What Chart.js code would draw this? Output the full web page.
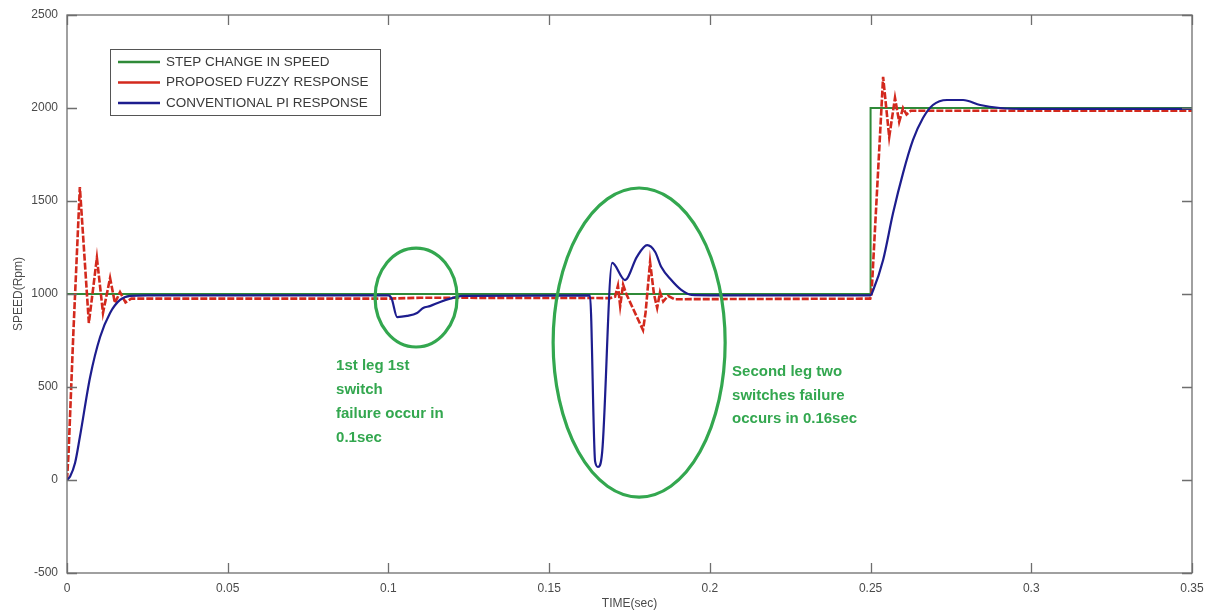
<!DOCTYPE html>
<html>
<head>
<meta charset="utf-8">
<script src="https://cdn.jsdelivr.net/npm/chart.js@4.4.1/dist/chart.umd.min.js"></script>
<style>
html,body{margin:0;padding:0;background:#fff;}
#wrap{width:1207px;height:615px;}
</style>
</head>
<body>
<div id="wrap"><canvas id="c" width="1207" height="615"></canvas></div>
<script>
// ---------- data ----------
const xTickLabels = ['0','0.05','0.1','0.15','0.2','0.25','0.3','0.35'];
const yTickLabels = ['-500','0','500','1000','1500','2000','2500'];

const stepTime  = [0, 0.25, 0.25, 0.35];
const stepSpeed = [1000, 1000, 2000, 2000];

const fuzzyTime  = [0, 0.0005, 0.0020, 0.0040, 0.0068, 0.0093, 0.0112, 0.0134, 0.0149, 0.0165,
                    0.0182, 0.0200, 0.1000, 0.1100, 0.1690, 0.1705, 0.1714, 0.1721, 0.1730, 0.1740,
                    0.1792, 0.1800, 0.1814, 0.1826, 0.1836, 0.1845, 0.1855, 0.1870, 0.1890, 0.2499,
                    0.2503, 0.2539, 0.2558, 0.2576, 0.2589, 0.2601, 0.2612, 0.2625, 0.3500];
const fuzzySpeed = [0, 150, 800, 1575, 844, 1194, 898, 1086, 952, 1010,
                    955, 975, 975, 980, 978, 985, 1045, 935, 1050, 1000,
                    806, 900, 1172, 1000, 925, 1010, 960, 990, 972, 975,
                    1000, 2167, 1844, 2054, 1925, 2000, 1965, 1985, 1985];

const piTime  = [0, 0.0010, 0.0025, 0.0040, 0.0072, 0.0103, 0.0134, 0.0165, 0.0196, 0.0250,
                 0.1000, 0.1010, 0.1027, 0.1058, 0.1089, 0.1108, 0.1129, 0.1161, 0.1192, 0.1230,
                 0.1627, 0.1643, 0.1652, 0.1665, 0.1696, 0.1736, 0.1773, 0.1805, 0.1830, 0.1849,
                 0.1880, 0.1911, 0.1943, 0.2000, 0.2500, 0.2508, 0.2539, 0.2570, 0.2601, 0.2632,
                 0.2663, 0.2694, 0.2738, 0.2788, 0.2841, 0.2903, 0.3000, 0.3500];
const piSpeed = [0, 20, 91, 231, 554, 769, 898, 968, 990, 993,
                 993, 975, 876, 882, 898, 925, 935, 957, 975, 990,
                 993, 100, 70, 150, 1167, 1075, 1200, 1263, 1226, 1145,
                 1075, 1022, 995, 993, 993, 1020, 1183, 1435, 1650, 1828,
                 1946, 2016, 2043, 2043, 2016, 2000, 1995, 1995];

const seriesLabels = ['STEP CHANGE IN SPEED', 'PROPOSED FUZZY RESPONSE', 'CONVENTIONAL PI RESPONSE'];

// annotation circles (data units) and notes
const ellipseCenters = [[0.1086, 981], [0.178, 739]];
const ellipseRadii   = [[0.01276, 266], [0.02676, 831]];
const note1 = ['1st leg 1st', 'switch', 'failure occur in', '0.1sec'];
const note2 = ['Second leg two', 'switches failure', 'occurs in 0.16sec'];
const noteAnchors = [[0.0837, 613], [0.2069, 581]];

// ---------- styles ----------
const FONT = "'Liberation Sans', Arial, sans-serif";
const GREEN = '#2f8a38', RED = '#d3291d', BLUE = '#1d1d8e';
const NOTE_GREEN = '#33a74f';
const AXIS = '#6e6e6e';

const toPts = (xs, ys) => xs.map((x, i) => ({x: x, y: ys[i]}));

const boxPlugin = {
  id: 'box',
  afterDatasetsDraw(chart) {
    const {ctx, chartArea: a, scales: {x, y}} = chart;
    ctx.save();
    // annotation ellipses
    ctx.strokeStyle = NOTE_GREEN;
    ctx.lineWidth = 3.2;
    ellipseCenters.forEach((c, i) => {
      const cx = x.getPixelForValue(c[0]), cy = y.getPixelForValue(c[1]);
      const rx = Math.abs(x.getPixelForValue(c[0] + ellipseRadii[i][0]) - cx);
      const ry = Math.abs(y.getPixelForValue(c[1] + ellipseRadii[i][1]) - cy);
      ctx.beginPath();
      ctx.ellipse(cx, cy, rx, ry, 0, 0, Math.PI * 2);
      ctx.stroke();
    });
    // notes
    ctx.fillStyle = NOTE_GREEN;
    ctx.font = "bold 15px " + FONT;
    ctx.textBaseline = 'middle';
    ctx.textAlign = 'left';
    [[note1, 24], [note2, 23.5]].forEach((n, i) => {
      const px = x.getPixelForValue(noteAnchors[i][0]);
      const py = y.getPixelForValue(noteAnchors[i][1]);
      n[0].forEach((line, k) => ctx.fillText(line, px, py + k * n[1]));
    });
    // axes box
    ctx.strokeStyle = AXIS;
    ctx.lineWidth = 1.3;
    ctx.strokeRect(a.left, a.top, a.right - a.left, a.bottom - a.top);
    // inward ticks on all four sides
    const tl = 10;
    ctx.beginPath();
    x.ticks.forEach(t => {
      const px = Math.round(x.getPixelForValue(t.value)) + 0.5;
      ctx.moveTo(px, a.bottom); ctx.lineTo(px, a.bottom - tl);
      ctx.moveTo(px, a.top); ctx.lineTo(px, a.top + tl);
    });
    y.ticks.forEach(t => {
      const py = Math.round(y.getPixelForValue(t.value)) + 0.5;
      ctx.moveTo(a.left, py); ctx.lineTo(a.left + tl, py);
      ctx.moveTo(a.right, py); ctx.lineTo(a.right - tl, py);
    });
    ctx.stroke();
    // legend
    const lx = 110, ly = 49, lw = 270, lh = 66;
    ctx.fillStyle = '#fff';
    ctx.fillRect(lx, ly, lw, lh);
    ctx.strokeStyle = '#555';
    ctx.lineWidth = 1;
    ctx.strokeRect(lx + 0.5, ly + 0.5, lw, lh);
    ctx.font = "13.5px " + FONT;
    ctx.textBaseline = 'middle';
    chart.data.datasets.forEach((ds, i) => {
      const yy = ly + 13 + i * 20.5;
      ctx.strokeStyle = ds.borderColor;
      ctx.lineWidth = 2.5;
      ctx.setLineDash([]);
      ctx.beginPath();
      ctx.moveTo(lx + 8, yy); ctx.lineTo(lx + 50, yy);
      ctx.stroke();
      ctx.fillStyle = '#3a3a3a';
      ctx.fillText(ds.label, lx + 56, yy);
    });
    ctx.restore();
  }
};

new Chart(document.getElementById('c'), {
  type: 'line',
  data: {
    datasets: [
      {label: seriesLabels[0], data: toPts(stepTime, stepSpeed), borderColor: GREEN, borderWidth: 2, order: 3},
      {label: seriesLabels[1], data: toPts(fuzzyTime, fuzzySpeed), borderColor: RED, borderWidth: 2.6, borderDash: [7, 2], order: 2},
      {label: seriesLabels[2], data: toPts(piTime, piSpeed), borderColor: BLUE, borderWidth: 2.2, cubicInterpolationMode: 'monotone', order: 1}
    ]
  },
  options: {
    responsive: false,
    animation: false,
    events: [],
    elements: {point: {radius: 0}, line: {tension: 0, fill: false}},
    layout: {padding: {top: 15, right: 15, left: 0, bottom: 0}},
    plugins: {legend: {display: false}, tooltip: {enabled: false}},
    scales: {
      x: {
        type: 'linear', min: 0, max: 0.35,
        afterFit: s => { s.height = 42; s.paddingLeft = 0; s.paddingRight = 0; },
        grid: {display: false, drawTicks: false},
        border: {display: false},
        ticks: {stepSize: 0.05, padding: 8, color: '#4a4a4a', font: {family: FONT, size: 12},
                maxRotation: 0, autoSkip: false,
                callback: (v, i) => xTickLabels[i]},
        title: {display: true, text: 'TIME(sec)', color: '#4a4a4a', font: {family: FONT, size: 12}, padding: {top: 0, bottom: 4}}
      },
      y: {
        type: 'linear', min: -500, max: 2500,
        afterFit: s => { s.width = 67; s.paddingTop = 0; s.paddingBottom = 0; },
        grid: {display: false, drawTicks: false},
        border: {display: false},
        ticks: {stepSize: 500, padding: 9, color: '#4a4a4a', font: {family: FONT, size: 12},
                callback: (v, i) => yTickLabels[i]},
        title: {display: true, text: 'SPEED(Rpm)', color: '#4a4a4a', font: {family: FONT, size: 12}, padding: {top: 11, bottom: 0}}
      }
    }
  },
  plugins: [boxPlugin]
});
</script>
</body>
</html>
